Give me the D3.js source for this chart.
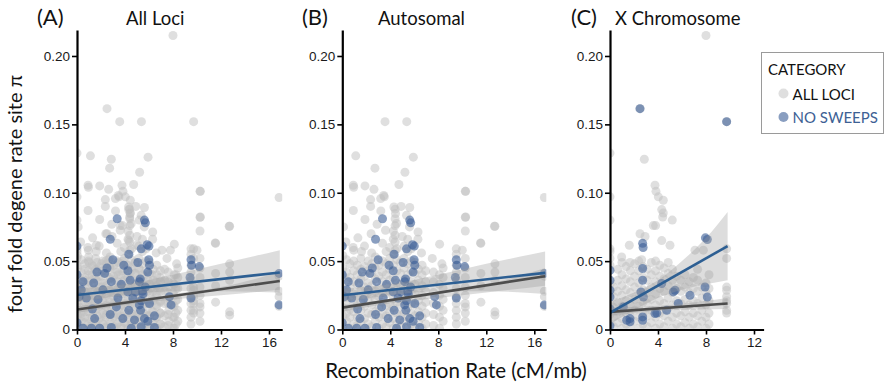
<!DOCTYPE html>
<html>
<head>
<meta charset="utf-8">
<script src="https://cdn.jsdelivr.net/npm/d3@7"></script>
<style>
  body { margin: 0; background: #fff; }
  svg { font-family: Lato, 'Open Sans', sans-serif; }
</style>
</head>
<body>
<div id="chart"></div>
<script>
// ---- data ----
// autosomal loci, dense columns [recombination rate, [pi values]]
const autoCloud = [
  [0.05, [0.002, 0.010, 0.016, 0.025, 0.030, 0.039, 0.045, 0.054]],
  [0.35, [0.006, 0.012, 0.021, 0.027, 0.036, 0.042, 0.051]],
  [0.65, [0.001, 0.009, 0.015, 0.024, 0.031, 0.038, 0.048]],
  [0.95, [0.004, 0.013, 0.019, 0.026, 0.035, 0.043, 0.050, 0.058]],
  [1.25, [0.003, 0.009, 0.018, 0.024, 0.033, 0.040, 0.047]],
  [1.55, [0.006, 0.014, 0.020, 0.029, 0.037, 0.044, 0.052]],
  [1.85, [0.001, 0.008, 0.017, 0.023, 0.031, 0.039, 0.046, 0.061]],
  [2.15, [0.004, 0.012, 0.021, 0.027, 0.034, 0.043, 0.050]],
  [2.45, [0.002, 0.011, 0.018, 0.025, 0.032, 0.041, 0.048, 0.056]],
  [2.75, [0.006, 0.013, 0.022, 0.028, 0.037, 0.045, 0.053]],
  [3.05, [0.001, 0.009, 0.016, 0.024, 0.030, 0.039, 0.047]],
  [3.35, [0.004, 0.011, 0.020, 0.027, 0.035, 0.042, 0.050, 0.063]],
  [3.65, [0.002, 0.010, 0.017, 0.026, 0.032, 0.040, 0.048, 0.057]],
  [3.95, [0.005, 0.013, 0.019, 0.028, 0.036, 0.044, 0.052, 0.060]],
  [4.25, [0.001, 0.008, 0.016, 0.023, 0.031, 0.038, 0.047, 0.055, 0.066, 0.072]],
  [4.40, [0.058, 0.064, 0.069, 0.076, 0.081, 0.088]],
  [4.55, [0.004, 0.012, 0.020, 0.027, 0.034, 0.043, 0.051, 0.059]],
  [4.85, [0.002, 0.010, 0.018, 0.025, 0.033, 0.041, 0.049]],
  [5.15, [0.006, 0.013, 0.021, 0.029, 0.036, 0.045, 0.052, 0.061]],
  [5.45, [0.001, 0.009, 0.016, 0.024, 0.032, 0.040, 0.048, 0.057, 0.066]],
  [5.75, [0.004, 0.012, 0.019, 0.027, 0.035, 0.043, 0.050, 0.059]],
  [6.05, [0.002, 0.010, 0.018, 0.026, 0.033, 0.041, 0.049]],
  [6.35, [0.005, 0.013, 0.021, 0.028, 0.036, 0.044]],
  [6.65, [0.001, 0.009, 0.017, 0.025, 0.032, 0.040, 0.047]],
  [6.95, [0.004, 0.012, 0.020, 0.028, 0.035, 0.043]],
  [7.60, [0.003, 0.011, 0.019, 0.027, 0.035, 0.042]],
  [8.10, [0.001, 0.009, 0.017, 0.025, 0.033, 0.040]],
  [8.40, [0.006, 0.014, 0.022, 0.030, 0.038, 0.045]],
  [9.50, [0.004, 0.009, 0.014, 0.019, 0.024, 0.030, 0.036, 0.042, 0.047, 0.055, 0.059]],
  [10.25, [0.006, 0.012, 0.0165, 0.019, 0.025, 0.031, 0.038, 0.045, 0.052, 0.072, 0.082, 0.101]],
  [11.55, [0.020, 0.032, 0.041, 0.063]],
  [12.72, [0.0105, 0.0129, 0.036, 0.042, 0.048, 0.0755]],
  [16.84, [0.017, 0.024, 0.028, 0.039, 0.0965]]
];
// autosomal loci, scattered [rate, pi]
const autoScatter = [
  [3.56, 0.152], [5.37, 0.152], [1.12, 0.127], [2.72, 0.118], [5.92, 0.126], [5.22, 0.115],
  [0.92, 0.1055], [0.95, 0.104], [1.89, 0.105], [2.64, 0.1025], [4.72, 0.106], [10.28, 0.101],
  [2.36, 0.095], [3.5, 0.097], [3.45, 0.098], [3.2, 0.0957], [2.36, 0.090], [0.92, 0.087],
  [4.3, 0.0896], [4.43, 0.0848], [5.62, 0.0892], [3.21, 0.0867], [1.89, 0.0804], [10.28, 0.0823],
  [5.35, 0.0835], [3.6, 0.0726], [6.31, 0.0713], [4.52, 0.0775], [12.68, 0.0755], [11.52, 0.0633],
  [8.11, 0.0624], [0.3, 0.064], [0.9, 0.060], [1.6, 0.057], [2.4, 0.070], [2.9, 0.077],
  [1.3, 0.067], [5.0, 0.068], [5.6, 0.075], [6.3, 0.066], [4.9, 0.090], [0.1, 0.075],
  [6.6, 0.056], [7.5, 0.052], [8.3, 0.048], [10.0, 0.058]
];
// autosomal loci without sweeps
const autoNoSweep = [
  [3.35, 0.081], [5.62, 0.080], [5.7, 0.078], [2.77, 0.066], [0.0, 0.061], [5.85, 0.062],
  [6.0, 0.061], [5.35, 0.059], [2.99, 0.051], [4.32, 0.055], [5.07, 0.049], [5.98, 0.051],
  [6.04, 0.047], [1.66, 0.042], [2.3, 0.041], [4.24, 0.043], [5.9, 0.042], [9.5, 0.051],
  [9.55, 0.047], [10.19, 0.046], [9.42, 0.038], [16.84, 0.041], [9.5, 0.023], [16.84, 0.018],
  [0.5, 0.035], [1.39, 0.034], [2.86, 0.035], [3.69, 0.033], [4.43, 0.036], [5.2, 0.035],
  [5.27, 0.037], [5.7, 0.031], [0.17, 0.024], [0.78, 0.023], [1.75, 0.022], [3.41, 0.023],
  [4.65, 0.023], [5.35, 0.021], [5.2, 0.018], [5.3, 0.014], [6.04, 0.019], [1.28, 0.015],
  [2.77, 0.011], [4.32, 0.014], [6.45, 0.010], [1.47, 0.008], [3.82, 0.008], [4.79, 0.007],
  [5.9, 0.006], [0.5, 0.001], [1.2, 0.001], [1.89, 0.001], [2.86, 0.0015], [4.52, 0.001],
  [5.35, 0.002], [6.45, 0.0015], [7.84, 0.018], [4.24, 0.0275], [2.16, 0.029], [0.36, 0.029],
  [3.28, 0.0165], [4.88, 0.0275], [5.62, 0.008], [7.7, 0.024], [0.0, 0.005], [3.9, 0.047],
  [2.5, 0.045], [0.0, 0.040], [5.45, 0.028], [5.5, 0.026]
];
// X chromosome loci, dense columns
const xCloud = [
  [0.00, [0.004, 0.011, 0.019, 0.026, 0.033, 0.047, 0.052]],
  [0.30, [0.002, 0.009, 0.016, 0.024, 0.031]],
  [0.65, [0.005, 0.013, 0.020, 0.028, 0.036, 0.044]],
  [1.00, [0.001, 0.008, 0.017, 0.025, 0.032, 0.040, 0.049]],
  [1.35, [0.004, 0.012, 0.021, 0.029, 0.037, 0.046]],
  [1.70, [0.002, 0.010, 0.018, 0.027, 0.035, 0.043]],
  [2.05, [0.006, 0.014, 0.022, 0.031, 0.039, 0.048]],
  [2.40, [0.001, 0.009, 0.017, 0.026, 0.034, 0.043, 0.050]],
  [2.75, [0.004, 0.012, 0.020, 0.029, 0.038, 0.046]],
  [3.10, [0.002, 0.010, 0.019, 0.027, 0.036, 0.044]],
  [3.45, [0.005, 0.014, 0.022, 0.031, 0.040, 0.049]],
  [3.80, [0.001, 0.009, 0.018, 0.026, 0.035, 0.043, 0.050]],
  [4.15, [0.004, 0.012, 0.021, 0.030, 0.039, 0.047]],
  [4.50, [0.002, 0.010, 0.019, 0.028, 0.037, 0.045]],
  [4.85, [0.006, 0.014, 0.023, 0.032, 0.041, 0.049]],
  [5.20, [0.001, 0.009, 0.018, 0.027, 0.036, 0.044]],
  [5.55, [0.004, 0.012, 0.021, 0.030, 0.039]],
  [5.90, [0.002, 0.010, 0.019, 0.028, 0.036]],
  [6.25, [0.005, 0.013, 0.022, 0.031, 0.040]],
  [6.60, [0.001, 0.009, 0.018, 0.027, 0.035]],
  [6.95, [0.004, 0.012, 0.021, 0.030, 0.038]],
  [7.30, [0.002, 0.010, 0.019, 0.028, 0.036, 0.044]],
  [7.65, [0.006, 0.014, 0.023, 0.031]],
  [8.00, [0.001, 0.009, 0.018, 0.027, 0.034]],
  [8.25, [0.004, 0.012, 0.021, 0.030, 0.040]],
  [9.72, [0.012, 0.014, 0.019, 0.021, 0.024, 0.0287, 0.031, 0.052, 0.059]]
];
const xScatter = [
  [8.0, 0.215], [2.5, 0.1615], [9.72, 0.152], [0.0, 0.129], [2.86, 0.1245], [0.0, 0.097],
  [0.0, 0.080], [3.75, 0.1055], [3.83, 0.101], [4.03, 0.097], [4.44, 0.0945], [4.31, 0.0877],
  [4.44, 0.0852], [4.39, 0.0823], [5.19, 0.080], [3.61, 0.076], [3.8, 0.076], [2.5, 0.070],
  [2.92, 0.068], [4.31, 0.065], [5.0, 0.0616], [1.61, 0.0616], [0.0, 0.059], [0.0, 0.057],
  [0.97, 0.053], [1.67, 0.049], [2.64, 0.051], [7.08, 0.058], [7.78, 0.058]
];
const xNoSweep = [
  [2.5, 0.1615], [9.72, 0.152], [2.72, 0.063], [2.76, 0.060], [2.72, 0.0446], [2.72, 0.036],
  [2.58, 0.0275], [2.78, 0.0238], [2.72, 0.0092], [2.72, 0.0068], [1.67, 0.0056], [0.0, 0.0433],
  [0.0, 0.036], [0.0, 0.0287], [0.0, 0.0238], [0.0, 0.015], [0.0, 0.0027], [1.11, 0.0165],
  [1.67, 0.008], [1.39, 0.0068], [4.31, 0.0336], [5.28, 0.0275], [5.69, 0.019], [4.72, 0.0141],
  [6.67, 0.025], [3.75, 0.0117], [7.92, 0.0311], [8.11, 0.0238], [8.11, 0.0658], [7.95, 0.067],
  [3.9, 0.012], [5.42, 0.0287]
];

// fitted lines [[x0, y0], [x1, y1]] and confidence bands [x, lower, upper]
const fitAllA = [[0, 0.0146], [16.9, 0.0355]];
const fitNoSweepA = [[0, 0.0252], [16.9, 0.0417]];
const bandAllA = [[0, 0.012, 0.017], [4, 0.018, 0.021], [8, 0.022, 0.026], [12, 0.025, 0.031], [16.9, 0.029, 0.042]];
const bandNoSweepA = [[0, 0.020, 0.030], [4, 0.025, 0.033], [8, 0.028, 0.040], [12, 0.028, 0.048], [16.9, 0.027, 0.058]];
const fitAllB = [[0, 0.016], [16.9, 0.039]];
const fitNoSweepB = [[0, 0.025], [16.9, 0.0414]];
const bandAllB = [[0, 0.013, 0.018], [4, 0.019, 0.022], [8, 0.023, 0.027], [12, 0.027, 0.033], [16.9, 0.032, 0.045]];
const bandNoSweepB = [[0, 0.020, 0.030], [4, 0.025, 0.033], [8, 0.028, 0.040], [12, 0.028, 0.048], [16.9, 0.026, 0.057]];
const fitAllC = [[0, 0.0129], [9.8, 0.019]];
const fitNoSweepC = [[0, 0.0122], [9.8, 0.061]];
const bandAllC = [[0, 0.010, 0.016], [5, 0.014, 0.018], [9.8, 0.015, 0.023]];
const bandNoSweepC = [[0, 0.004, 0.020], [2, 0.014, 0.027], [4, 0.023, 0.036], [6, 0.029, 0.050], [8, 0.033, 0.067], [9.8, 0.036, 0.086]];

const yTicks = [0, 0.05, 0.10, 0.15, 0.20];
const xTicks = [0, 4, 8, 12, 16];
const categories = ['ALL LOCI', 'NO SWEEPS'];

// ---- layout ----
const width = 884, height = 388;
const pxPerUnit = 12;
const plotTop = 30, plotBottom = 329.5;
const colors = { all: '#c0c0c0', noSweep: '#3a5e96', lineAll: '#4d4d4d', lineNoSweep: '#2d5f93' };
const allOpacity = 0.5, noSweepOpacity = 0.6;

const flatten = cols => cols.flatMap(([x, ys]) => ys.map(y => [x, y]));
const autoAll = flatten(autoCloud).concat(autoScatter);
const xAll = flatten(xCloud).concat(xScatter);

const panels = [
  { id: 'A', tag: '(A)', tagX: 37, title: 'All Loci', titleX: 126, left: 77, xMax: 17.1,
    all: autoAll.concat(xAll), noSweep: autoNoSweep,
    fitAll: fitAllA, fitNoSweep: fitNoSweepA, bandAll: bandAllA, bandNoSweep: bandNoSweepA },
  { id: 'B', tag: '(B)', tagX: 302, title: 'Autosomal', titleX: 378, left: 342.3, xMax: 17.0,
    all: autoAll, noSweep: autoNoSweep,
    fitAll: fitAllB, fitNoSweep: fitNoSweepB, bandAll: bandAllB, bandNoSweep: bandNoSweepB },
  { id: 'C', tag: '(C)', tagX: 571, title: 'X Chromosome', titleX: 615, left: 610, xMax: 12.8,
    all: xAll, noSweep: xNoSweep,
    fitAll: fitAllC, fitNoSweep: fitNoSweepC, bandAll: bandAllC, bandNoSweep: bandNoSweepC }
];

const svg = d3.select('#chart').append('svg')
  .attr('width', width)
  .attr('height', height);

const y = d3.scaleLinear().domain([0, 0.219]).range([plotBottom, plotTop]);

panels.forEach(p => {
  const x = d3.scaleLinear().domain([0, p.xMax]).range([p.left, p.left + p.xMax * pxPerUnit]);
  const g = svg.append('g').attr('class', 'panel-' + p.id);

  g.append('clipPath').attr('id', 'clip-' + p.id)
    .append('rect')
    .attr('x', x(0)).attr('y', plotTop - 10)
    .attr('width', x(p.xMax) - x(0)).attr('height', plotBottom - plotTop + 10);

  const body = g.append('g').attr('clip-path', `url(#clip-${p.id})`);

  body.append('g').selectAll('circle')
    .data(p.all)
    .join('circle')
    .attr('cx', d => x(d[0]))
    .attr('cy', d => y(d[1]))
    .attr('r', 4.5)
    .attr('fill', colors.all)
    .attr('fill-opacity', allOpacity);

  body.append('g').selectAll('circle')
    .data(p.noSweep)
    .join('circle')
    .attr('cx', d => x(d[0]))
    .attr('cy', d => y(d[1]))
    .attr('r', 4.5)
    .attr('fill', colors.noSweep)
    .attr('fill-opacity', noSweepOpacity);

  const area = d3.area().x(d => x(d[0])).y0(d => y(d[1])).y1(d => y(d[2])).curve(d3.curveMonotoneX);
  const line = d3.line().x(d => x(d[0])).y(d => y(d[1]));

  [p.bandAll, p.bandNoSweep].forEach(b => {
    body.append('path').datum(b)
      .attr('d', area)
      .attr('fill', '#999999')
      .attr('fill-opacity', 0.33);
  });
  body.append('path').datum(p.fitAll)
    .attr('d', line).attr('fill', 'none')
    .attr('stroke', colors.lineAll).attr('stroke-width', 2.6);
  body.append('path').datum(p.fitNoSweep)
    .attr('d', line).attr('fill', 'none')
    .attr('stroke', colors.lineNoSweep).attr('stroke-width', 2.6);

  // axes
  const yAxis = d3.axisLeft(y).tickValues(yTicks)
    .tickFormat(d => d === 0 ? '0' : d3.format('.2f')(d))
    .tickSize(5).tickSizeOuter(0).tickPadding(2);
  const xAxis = d3.axisBottom(x).tickValues(xTicks.filter(t => t <= p.xMax))
    .tickSize(5).tickSizeOuter(0).tickPadding(3);

  const ya = g.append('g').attr('transform', `translate(${x(0)},0)`).call(yAxis);
  const xa = g.append('g').attr('transform', `translate(0,${plotBottom})`).call(xAxis);
  [ya, xa].forEach(a => {
    a.select('.domain').attr('stroke', '#000').attr('stroke-width', 2.2);
    a.selectAll('.tick line').attr('stroke', '#000').attr('stroke-width', 1.6);
    a.selectAll('text').attr('font-size', 13.5).attr('fill', '#1a1a1a').attr('font-family', null);
  });

  // titles
  g.append('text').attr('x', p.tagX).attr('y', 25)
    .attr('font-size', 22).attr('fill', '#111').text(p.tag);
  g.append('text').attr('x', p.titleX).attr('y', 24.5)
    .attr('font-size', 18.5).attr('fill', '#111').text(p.title);
});

// axis titles
svg.append('text')
  .attr('transform', 'translate(22,194) rotate(-90)')
  .attr('text-anchor', 'middle')
  .attr('font-size', 20)
  .attr('fill', '#111')
  .text('four fold degene rate site π');

svg.append('text')
  .attr('x', 456).attr('y', 378)
  .attr('text-anchor', 'middle')
  .attr('font-size', 20.5)
  .attr('fill', '#111')
  .text('Recombination Rate (cM/mb)');

// legend
const legend = svg.append('g').attr('class', 'legend');
legend.append('rect')
  .attr('x', 761.5).attr('y', 52.5).attr('width', 122).attr('height', 81)
  .attr('fill', '#fff').attr('stroke', '#9a9a9a').attr('stroke-width', 1);
legend.append('text').attr('x', 768).attr('y', 75)
  .attr('font-size', 15).attr('fill', '#111').text('CATEGORY');
categories.forEach((c, i) => {
  const cy = 93.5 + i * 23.5;
  legend.append('circle')
    .attr('cx', 783.5).attr('cy', cy).attr('r', 5)
    .attr('fill', i === 0 ? colors.all : colors.noSweep)
    .attr('fill-opacity', i === 0 ? allOpacity : noSweepOpacity);
  legend.append('text').attr('x', 792.5).attr('y', cy + 6)
    .attr('font-size', 15)
    .attr('fill', i === 0 ? '#111' : '#3d6194')
    .text(c);
});
</script>
</body>
</html>
